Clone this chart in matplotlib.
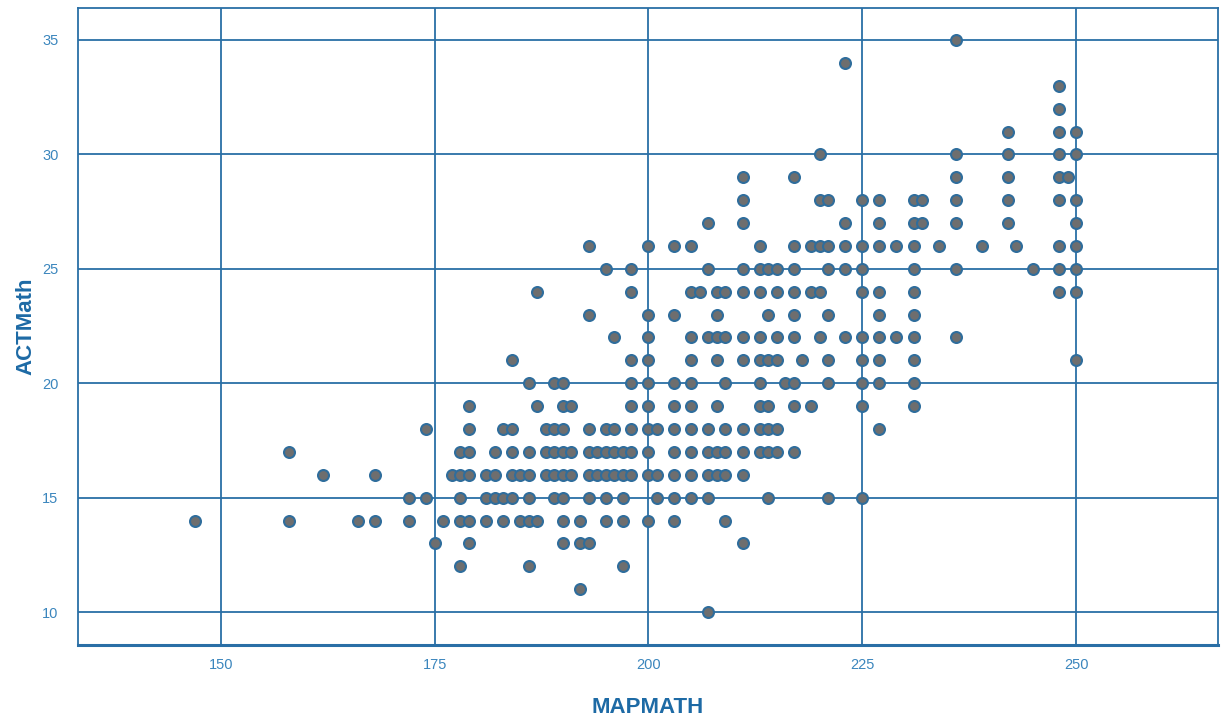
import matplotlib
matplotlib.use("Agg")
import matplotlib.pyplot as plt

# ACT math score -> MAP math scores observed at that ACT value
act_rows = {
    35: [236],
    34: [223],
    33: [248],
    32: [248],
    31: [242, 248, 250],
    30: [220, 236, 242, 248, 250],
    29: [211, 217, 236, 242, 248, 249],
    28: [211, 220, 221, 225, 227, 231, 232, 236, 242, 248, 250],
    27: [207, 211, 223, 227, 231, 232, 236, 242, 250],
    26: [193, 200, 203, 205, 213, 217, 219, 220, 221, 223, 225, 227, 229,
         231, 234, 239, 243, 248, 250],
    25: [195, 198, 207, 211, 213, 214, 215, 217, 221, 223, 225, 231, 236,
         245, 248, 250],
    24: [187, 198, 205, 206, 208, 209, 211, 213, 215, 217, 219, 220, 225,
         227, 231, 248, 250],
    23: [193, 200, 203, 208, 214, 217, 221, 227, 231],
    22: [196, 200, 205, 207, 208, 209, 211, 213, 215, 217, 220, 223, 225,
         227, 229, 231, 236],
    21: [184, 198, 200, 205, 208, 211, 213, 214, 215, 218, 221, 225, 227,
         231, 250],
    20: [186, 189, 190, 198, 200, 203, 205, 209, 213, 216, 217, 221, 225,
         227, 231],
    19: [179, 187, 190, 191, 198, 200, 203, 205, 208, 213, 214, 217, 219,
         225, 231],
    18: [174, 179, 183, 184, 188, 189, 190, 193, 195, 196, 198, 200, 201,
         203, 205, 207, 209, 211, 213, 214, 215, 227],
    17: [158, 178, 179, 182, 184, 186, 188, 189, 190, 191, 193, 194, 195,
         196, 197, 198, 200, 203, 205, 207, 208, 209, 211, 213, 214, 215, 217],
    16: [162, 168, 177, 178, 179, 181, 182, 184, 185, 186, 188, 189, 190,
         191, 193, 194, 195, 196, 197, 198, 200, 201, 203, 205, 207, 208,
         209, 211],
    15: [172, 174, 178, 181, 182, 183, 184, 186, 189, 190, 193, 195, 197,
         201, 203, 205, 207, 214, 221, 225],
    14: [147, 158, 166, 168, 172, 176, 178, 179, 181, 183, 185, 186, 187,
         190, 192, 195, 197, 200, 203, 209],
    13: [175, 179, 190, 192, 193, 211],
    12: [178, 186, 197],
    11: [192],
    10: [207],
}

mapmath = []
actmath = []
for act, maps in act_rows.items():
    for m in maps:
        mapmath.append(m)
        actmath.append(act)

x_ticks = [150, 175, 200, 225, 250]
y_ticks = [10, 15, 20, 25, 30, 35]

line_col = "#2a6fa6"
tick_col = "#3b86bd"
label_col = "#1d6aa5"

fig = plt.figure(figsize=(12.27, 7.21), dpi=100)
ax = fig.add_axes([0.0636, 0.1054, 0.9291, 0.8836])

ax.scatter(mapmath, actmath, s=62, facecolor="#6e6e6e",
           edgecolor="#2f6d9c", linewidth=1.5, zorder=3)

ax.set_xlim(133.3, 266.6)
ax.set_ylim(8.56, 36.4)
ax.set_xticks(x_ticks)
ax.set_yticks(y_ticks)
ax.grid(True, color=line_col, linewidth=1.3)
ax.set_axisbelow(True)

for side in ["left", "right", "top"]:
    ax.spines[side].set_color(line_col)
    ax.spines[side].set_linewidth(1.3)
ax.spines["bottom"].set_color(line_col)
ax.spines["bottom"].set_linewidth(2.2)

ax.tick_params(length=0, colors=tick_col, labelsize=10.5)
ax.tick_params(axis="x", pad=9)
ax.tick_params(axis="y", pad=14)
for lab in ax.get_xticklabels() + ax.get_yticklabels():
    lab.set_family("Liberation Sans")

ax.set_xlabel("MAPMATH", fontsize=16, fontweight="bold", color=label_col,
              family="Liberation Sans", labelpad=18)
ax.set_ylabel("ACTMath", fontsize=16, fontweight="bold", color=label_col,
              family="Liberation Sans", labelpad=4)

fig.savefig("out.png", dpi=100)
